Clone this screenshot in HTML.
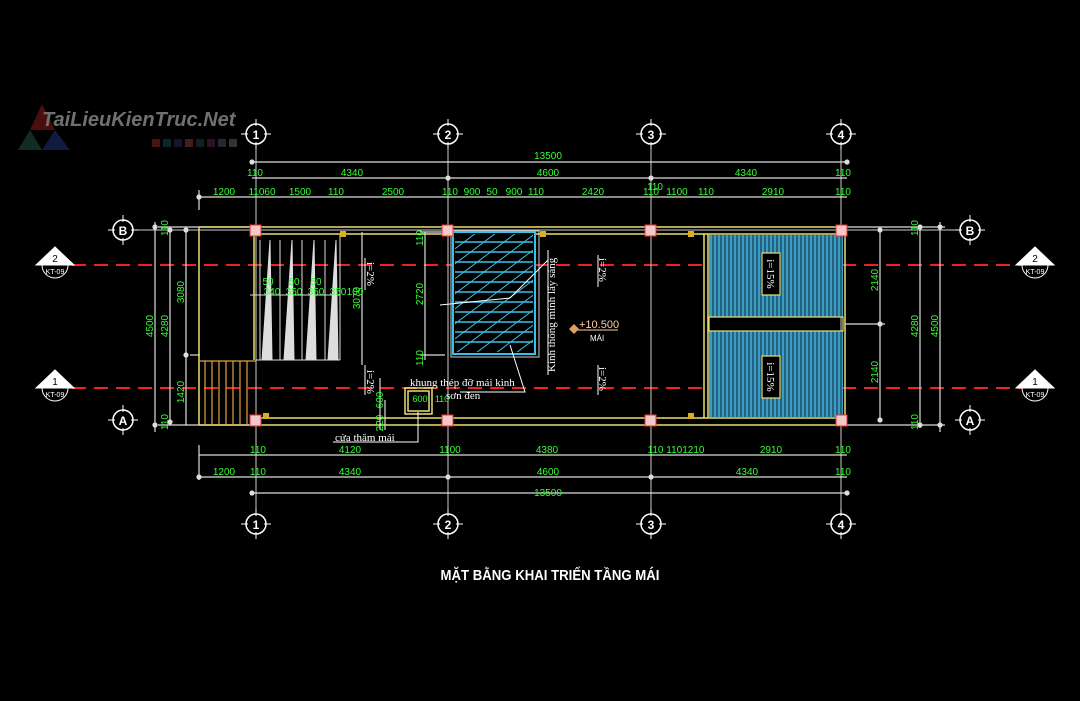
<!DOCTYPE html>
<html><head><meta charset="utf-8"><style>
html,body{margin:0;padding:0;background:#000;width:1080px;height:701px;overflow:hidden}
svg{display:block}
.g{fill:#3f3;font-family:"Liberation Sans Narrow","Liberation Sans",sans-serif;font-size:10px;}
.w{fill:#fff;font-family:"Liberation Serif",serif;font-size:11px}
</style></head><body>
<svg width="1080" height="701" viewBox="0 0 1080 701" xmlns="http://www.w3.org/2000/svg">
<rect width="1080" height="701" fill="#000"/>
<g opacity="0.6">
<polygon points="30,130 42,104 55,130" fill="#7a1a1a"/>
<polygon points="18,150 30,130 42,150" fill="#1f4a3a"/>
<polygon points="42,150 55,130 70,150" fill="#1c2e6a"/>
<text x="42" y="126" font-family="Liberation Sans,sans-serif" font-style="italic" font-weight="bold" font-size="20" fill="#bbb">TaiLieuKienTruc.Net</text>
<g><rect x="152" y="139" width="8" height="8" fill="#722"/><rect x="163" y="139" width="8" height="8" fill="#144"/><rect x="174" y="139" width="8" height="8" fill="#225"/><rect x="185" y="139" width="8" height="8" fill="#733"/><rect x="196" y="139" width="8" height="8" fill="#234"/><rect x="207" y="139" width="8" height="8" fill="#424"/><rect x="218" y="139" width="8" height="8" fill="#444"/><rect x="229" y="139" width="8" height="8" fill="#555"/></g>
</g>
<g stroke="#e22" stroke-width="2" stroke-dasharray="14,8">
<line x1="72" y1="265" x2="1022" y2="265"/><line x1="72" y1="388" x2="1022" y2="388"/></g>
<g stroke="#ccc" stroke-width="1">
<line x1="256" y1="146" x2="256" y2="512"/><line x1="448" y1="146" x2="448" y2="512"/><line x1="651" y1="146" x2="651" y2="512"/><line x1="841" y1="146" x2="841" y2="512"/>
<line x1="135" y1="230" x2="958" y2="230"/>
</g>
<g stroke="#ddd" stroke-width="1.2" fill="#ddd">
<line x1="252" y1="162" x2="847" y2="162"/><line x1="252" y1="178" x2="847" y2="178"/><line x1="199" y1="197" x2="847" y2="197"/>
<line x1="199" y1="455" x2="847" y2="455"/><line x1="199" y1="477" x2="847" y2="477"/><line x1="252" y1="493" x2="847" y2="493"/>
<line x1="155" y1="222" x2="155" y2="432"/><line x1="170" y1="227" x2="170" y2="425"/><line x1="186" y1="227" x2="186" y2="425"/>
<line x1="880" y1="230" x2="880" y2="420"/><line x1="920" y1="225" x2="920" y2="428"/><line x1="940" y1="222" x2="940" y2="432"/>
<line x1="190" y1="355" x2="200" y2="355"/>
<line x1="158" y1="227" x2="256" y2="227"/><line x1="158" y1="425" x2="256" y2="425"/>
<line x1="845" y1="227" x2="945" y2="227"/><line x1="845" y1="425" x2="945" y2="425"/>
<line x1="845" y1="324" x2="885" y2="324"/>
<line x1="199" y1="190" x2="199" y2="210"/><line x1="199" y1="445" x2="199" y2="480"/>
<circle cx="252" cy="162" r="2"/><circle cx="847" cy="162" r="2"/><circle cx="448" cy="178" r="2"/><circle cx="651" cy="178" r="2"/><circle cx="199" cy="197" r="2"/><circle cx="199" cy="477" r="2"/><circle cx="448" cy="477" r="2"/><circle cx="651" cy="477" r="2"/><circle cx="252" cy="493" r="2"/><circle cx="847" cy="493" r="2"/>
<circle cx="155" cy="227" r="2"/><circle cx="155" cy="425" r="2"/><circle cx="170" cy="230" r="2"/><circle cx="170" cy="422" r="2"/><circle cx="186" cy="230" r="2"/><circle cx="186" cy="355" r="2"/><circle cx="880" cy="230" r="2"/><circle cx="880" cy="324" r="2"/><circle cx="880" cy="420" r="2"/><circle cx="920" cy="227" r="2"/><circle cx="940" cy="227" r="2"/><circle cx="920" cy="425" r="2"/><circle cx="940" cy="425" r="2"/>
<line x1="362" y1="232" x2="362" y2="365"/><line x1="425" y1="232" x2="425" y2="360"/><line x1="420" y1="232" x2="445" y2="232"/><line x1="420" y1="355" x2="445" y2="355"/>
<line x1="385" y1="400" x2="385" y2="430"/>
</g>
<g stroke="#e8e070" stroke-width="1.5" fill="none">
<line x1="199" y1="227" x2="845" y2="227"/><line x1="254" y1="234" x2="845" y2="234"/>
<line x1="199" y1="425" x2="845" y2="425"/><line x1="254" y1="418" x2="845" y2="418"/>
<line x1="199" y1="227" x2="199" y2="425"/><line x1="845" y1="227" x2="845" y2="425"/>
<line x1="254" y1="234" x2="254" y2="360"/>
<line x1="704" y1="234" x2="704" y2="418"/><line x1="708" y1="234" x2="708" y2="418"/>
<rect x="405" y="388" width="27" height="26"/><rect x="408" y="391" width="21" height="20"/>
</g>
<g stroke="#e0a040" stroke-width="1.2">
<line x1="199" y1="361" x2="256" y2="361"/>
<line x1="205" y1="361" x2="205" y2="425"/><line x1="212" y1="361" x2="212" y2="425"/><line x1="219" y1="361" x2="219" y2="425"/><line x1="226" y1="361" x2="226" y2="425"/><line x1="233" y1="361" x2="233" y2="425"/><line x1="240" y1="361" x2="240" y2="425"/><line x1="247" y1="361" x2="247" y2="425"/>
</g>
<g fill="#ddd" stroke="#ddd" stroke-width="1">
<polygon points="262,360 270,240 272,360"/><polygon points="284,360 292,240 294,360"/><polygon points="306,360 314,240 316,360"/><polygon points="328,360 336,240 338,360"/>
<line x1="256" y1="360" x2="340" y2="360"/><line x1="260" y1="240" x2="260" y2="360" /><line x1="280" y1="240" x2="280" y2="360"/><line x1="302" y1="240" x2="302" y2="360"/><line x1="325" y1="240" x2="325" y2="360"/><line x1="340" y1="234" x2="340" y2="360"/>
<line x1="250" y1="295" x2="340" y2="295"/>
</g>
<rect x="451" y="231" width="88" height="126" fill="none" stroke="#ccc"/>
<rect x="453" y="232" width="82" height="122" fill="#000" stroke="#3ac0e8" stroke-width="2"/>
<g stroke="#3ac0e8" stroke-width="1.5">
<line x1="455" y1="242" x2="533" y2="242"/><line x1="455" y1="252" x2="533" y2="252"/><line x1="455" y1="262" x2="533" y2="262"/><line x1="455" y1="272" x2="533" y2="272"/><line x1="455" y1="282" x2="533" y2="282"/><line x1="455" y1="292" x2="533" y2="292"/><line x1="455" y1="302" x2="533" y2="302"/><line x1="455" y1="312" x2="533" y2="312"/><line x1="455" y1="322" x2="533" y2="322"/><line x1="455" y1="332" x2="533" y2="332"/><line x1="455" y1="342" x2="533" y2="342"/>
</g>
<clipPath id="gc"><rect x="455" y="234" width="78" height="118"/></clipPath>
<g stroke="#3ac0e8" stroke-width="1" clip-path="url(#gc)">
<path d="M440,260 L480,230 M440,275 L500,230 M440,290 L520,230 M440,305 L540,230 M440,320 L540,245 M440,335 L540,260 M440,350 L540,275 M440,365 L540,290 M460,365 L540,305 M480,365 L540,320 M500,365 L540,335 M520,365 L540,350"/>
</g>
<rect x="709" y="235" width="134" height="82" fill="#3c9cc4"/>
<rect x="709" y="331" width="134" height="86" fill="#3c9cc4"/>
<g stroke="#0b2a3a" stroke-width="1">
<path d="M713,235V317M717,235V317M721,235V317M725,235V317M729,235V317M733,235V317M737,235V317M741,235V317M745,235V317M749,235V317M753,235V317M757,235V317M761,235V317M765,235V317M769,235V317M773,235V317M777,235V317M781,235V317M785,235V317M789,235V317M793,235V317M797,235V317M801,235V317M805,235V317M809,235V317M813,235V317M817,235V317M821,235V317M825,235V317M829,235V317M833,235V317M837,235V317M841,235V317"/>
<path d="M713,331V417M717,331V417M721,331V417M725,331V417M729,331V417M733,331V417M737,331V417M741,331V417M745,331V417M749,331V417M753,331V417M757,331V417M761,331V417M765,331V417M769,331V417M773,331V417M777,331V417M781,331V417M785,331V417M789,331V417M793,331V417M797,331V417M801,331V417M805,331V417M809,331V417M813,331V417M817,331V417M821,331V417M825,331V417M829,331V417M833,331V417M837,331V417M841,331V417"/>
</g>
<g stroke="#e8e070" fill="none" stroke-width="1.2"><rect x="709" y="317" width="134" height="14"/>
<rect x="762" y="253" width="18" height="42" fill="#000"/><rect x="762" y="356" width="18" height="42" fill="#000"/></g>
<text class="w" transform="translate(767,274) rotate(90)" text-anchor="middle" font-size="11">i=15%</text>
<text class="w" transform="translate(767,377) rotate(90)" text-anchor="middle" font-size="11">i=15%</text>
<g fill="#f4c8c8" stroke="#e33" stroke-width="1">
<rect x="250" y="225" width="11" height="11"/><rect x="442" y="225" width="11" height="11"/><rect x="645" y="225" width="11" height="11"/><rect x="836" y="225" width="11" height="11"/>
<rect x="250" y="415" width="11" height="11"/><rect x="442" y="415" width="11" height="11"/><rect x="645" y="415" width="11" height="11"/><rect x="836" y="415" width="11" height="11"/>
</g>
<g fill="#d8b020"><rect x="340" y="231" width="6" height="6"/><rect x="540" y="231" width="6" height="6"/><rect x="688" y="231" width="6" height="6"/><rect x="263" y="413" width="6" height="6"/><rect x="688" y="413" width="6" height="6"/></g>
<g stroke="#fff" fill="none" stroke-width="1">
<polyline points="440,305 510,298 548,260"/><line x1="548" y1="250" x2="548" y2="375"/>
<polyline points="510,345 525,392 460,392"/>
<polyline points="333,442 418,442 418,412"/>
<line x1="380" y1="378" x2="380" y2="430"/>
</g>
<g font-family="Liberation Sans,sans-serif" font-weight="bold" font-size="12" fill="#fff" text-anchor="middle">
<g stroke="#fff" fill="none" stroke-width="1.5">
<circle cx="256" cy="134" r="10"/><circle cx="448" cy="134" r="10"/><circle cx="651" cy="134" r="10"/><circle cx="841" cy="134" r="10"/>
<circle cx="256" cy="524" r="10"/><circle cx="448" cy="524" r="10"/><circle cx="651" cy="524" r="10"/><circle cx="841" cy="524" r="10"/>
<circle cx="123" cy="230" r="10"/><circle cx="123" cy="420" r="10"/><circle cx="970" cy="230" r="10"/><circle cx="970" cy="420" r="10"/>
<path d="M241,134h30M256,119v30M433,134h30M448,119v30M636,134h30M651,119v30M826,134h30M841,119v30M241,524h30M256,509v30M433,524h30M448,509v30M636,524h30M651,509v30M826,524h30M841,509v30M108,230h30M123,215v30M108,420h30M123,405v30M955,230h30M970,215v30M955,420h30M970,405v30" stroke-width="1"/>
</g>
<g fill="#000"><circle cx="256" cy="134" r="8"/><circle cx="448" cy="134" r="8"/><circle cx="651" cy="134" r="8"/><circle cx="841" cy="134" r="8"/><circle cx="256" cy="524" r="8"/><circle cx="448" cy="524" r="8"/><circle cx="651" cy="524" r="8"/><circle cx="841" cy="524" r="8"/><circle cx="123" cy="230" r="8"/><circle cx="123" cy="420" r="8"/><circle cx="970" cy="230" r="8"/><circle cx="970" cy="420" r="8"/></g>
<text x="256" y="139">1</text><text x="448" y="139">2</text><text x="651" y="139">3</text><text x="841" y="139">4</text>
<text x="256" y="529">1</text><text x="448" y="529">2</text><text x="651" y="529">3</text><text x="841" y="529">4</text>
<text x="123" y="235">B</text><text x="123" y="425">A</text><text x="970" y="235">B</text><text x="970" y="425">A</text>
</g>
<g fill="#fff" stroke="#fff">
<polygon points="36,265 55,247 74,265"/><polygon points="36,388 55,370 74,388"/>
<polygon points="1016,265 1035,247 1054,265"/><polygon points="1016,388 1035,370 1054,388"/>
<path d="M42,265a13,13 0 0 0 26,0M42,388a13,13 0 0 0 26,0M1022,265a13,13 0 0 0 26,0M1022,388a13,13 0 0 0 26,0" fill="none"/>
</g>
<g font-family="Liberation Sans,sans-serif" font-size="10" text-anchor="middle" fill="#000"><text x="55" y="262">2</text><text x="55" y="385">1</text><text x="1035" y="262">2</text><text x="1035" y="385">1</text></g>
<g font-family="Liberation Sans Narrow,sans-serif" font-size="7" text-anchor="middle" fill="#fff"><text x="55" y="274">KT-09</text><text x="55" y="397">KT-09</text><text x="1035" y="274">KT-09</text><text x="1035" y="397">KT-09</text></g>
<g class="g" text-anchor="middle">
<text x="548" y="159">13500</text>
<text x="255" y="176">110</text><text x="352" y="176">4340</text><text x="548" y="176">4600</text><text x="746" y="176">4340</text><text x="843" y="176">110</text>
<text x="224" y="195">1200</text><text x="262" y="195">11060</text><text x="300" y="195">1500</text><text x="336" y="195">110</text><text x="393" y="195">2500</text><text x="450" y="195">110</text><text x="472" y="195">900</text><text x="492" y="195">50</text><text x="514" y="195">900</text><text x="536" y="195">110</text><text x="593" y="195">2420</text><text x="651" y="195">110</text><text x="655" y="190">110</text><text x="677" y="195">1100</text><text x="706" y="195">110</text><text x="773" y="195">2910</text><text x="843" y="195">110</text>
<text x="224" y="475">1200</text><text x="258" y="475">110</text><text x="350" y="475">4340</text><text x="548" y="475">4600</text><text x="747" y="475">4340</text><text x="843" y="475">110</text>
<text x="258" y="453">110</text><text x="350" y="453">4120</text><text x="450" y="453">1100</text><text x="547" y="453">4380</text><text x="676" y="453">110 1101210</text><text x="771" y="453">2910</text><text x="843" y="453">110</text>
<text x="548" y="496">13500</text>
<text x="272" y="295">340</text><text x="294" y="295">350</text><text x="316" y="295">350</text><text x="338" y="295">350</text><text x="355" y="295">100</text>
<text x="268" y="285">50</text><text x="294" y="285">50</text><text x="316" y="285">50</text>
<text x="420" y="402" font-size="9">600</text><text x="442" y="402" font-size="9">110</text>
</g>
<g class="g" text-anchor="middle">
<text transform="translate(153,326) rotate(-90)">4500</text>
<text transform="translate(168,326) rotate(-90)">4280</text>
<text transform="translate(184,292) rotate(-90)">3080</text>
<text transform="translate(184,392) rotate(-90)">1420</text>
<text transform="translate(168,228) rotate(-90)">110</text><text transform="translate(168,422) rotate(-90)">110</text>
<text transform="translate(360,298) rotate(-90)">3070</text>
<text transform="translate(423,294) rotate(-90)">2720</text>
<text transform="translate(423,238) rotate(-90)">110</text><text transform="translate(423,358) rotate(-90)">110</text>
<text transform="translate(383,400) rotate(-90)">600</text><text transform="translate(383,423) rotate(-90)">220</text>
<text transform="translate(878,280) rotate(-90)">2140</text><text transform="translate(878,372) rotate(-90)">2140</text>
<text transform="translate(918,326) rotate(-90)">4280</text><text transform="translate(938,326) rotate(-90)">4500</text>
<text transform="translate(918,228) rotate(-90)">110</text><text transform="translate(918,422) rotate(-90)">110</text>
</g>
<g class="w" font-family="Liberation Serif,serif" font-size="11">
<text transform="translate(367,262) rotate(90)">i=2%</text>
<text transform="translate(367,370) rotate(90)">i=2%</text>
<text transform="translate(599,258) rotate(90)">i=2%</text>
<text transform="translate(599,367) rotate(90)">i=2%</text>
<text transform="translate(555,372) rotate(-90)" font-size="11">Kính thông minh lấy sáng</text>
<text x="410" y="386" font-size="11">khung thép  đỡ mái kinh</text>
<text x="446" y="399" font-size="11">sơn đen</text>
<text x="335" y="441" font-size="11">cửa thăm mái</text>
</g>
<g stroke="#fff" stroke-width="1"><line x1="365" y1="258" x2="365" y2="290"/><line x1="365" y1="365" x2="365" y2="395"/><line x1="598" y1="255" x2="598" y2="287"/><line x1="598" y1="365" x2="598" y2="395"/></g>
<polygon points="569,329 574,324 579,329 574,334" fill="#e0a060"/>
<text x="579" y="328" font-family="Liberation Sans,sans-serif" font-size="11" fill="#ffd0a0">+10.500</text>
<line x1="578" y1="330" x2="618" y2="330" stroke="#ffd0a0"/>
<text x="590" y="341" font-family="Liberation Sans,sans-serif" font-size="8" fill="#fff">MÁI</text>
<text x="550" y="580" text-anchor="middle" font-family="Liberation Sans Narrow,Liberation Sans,sans-serif" font-weight="bold" font-size="15" fill="#fff" transform="translate(550,0) scale(0.88,1) translate(-550,0)">MẶT BẰNG KHAI TRIỂN TẦNG MÁI</text>
</svg>
</body></html>
